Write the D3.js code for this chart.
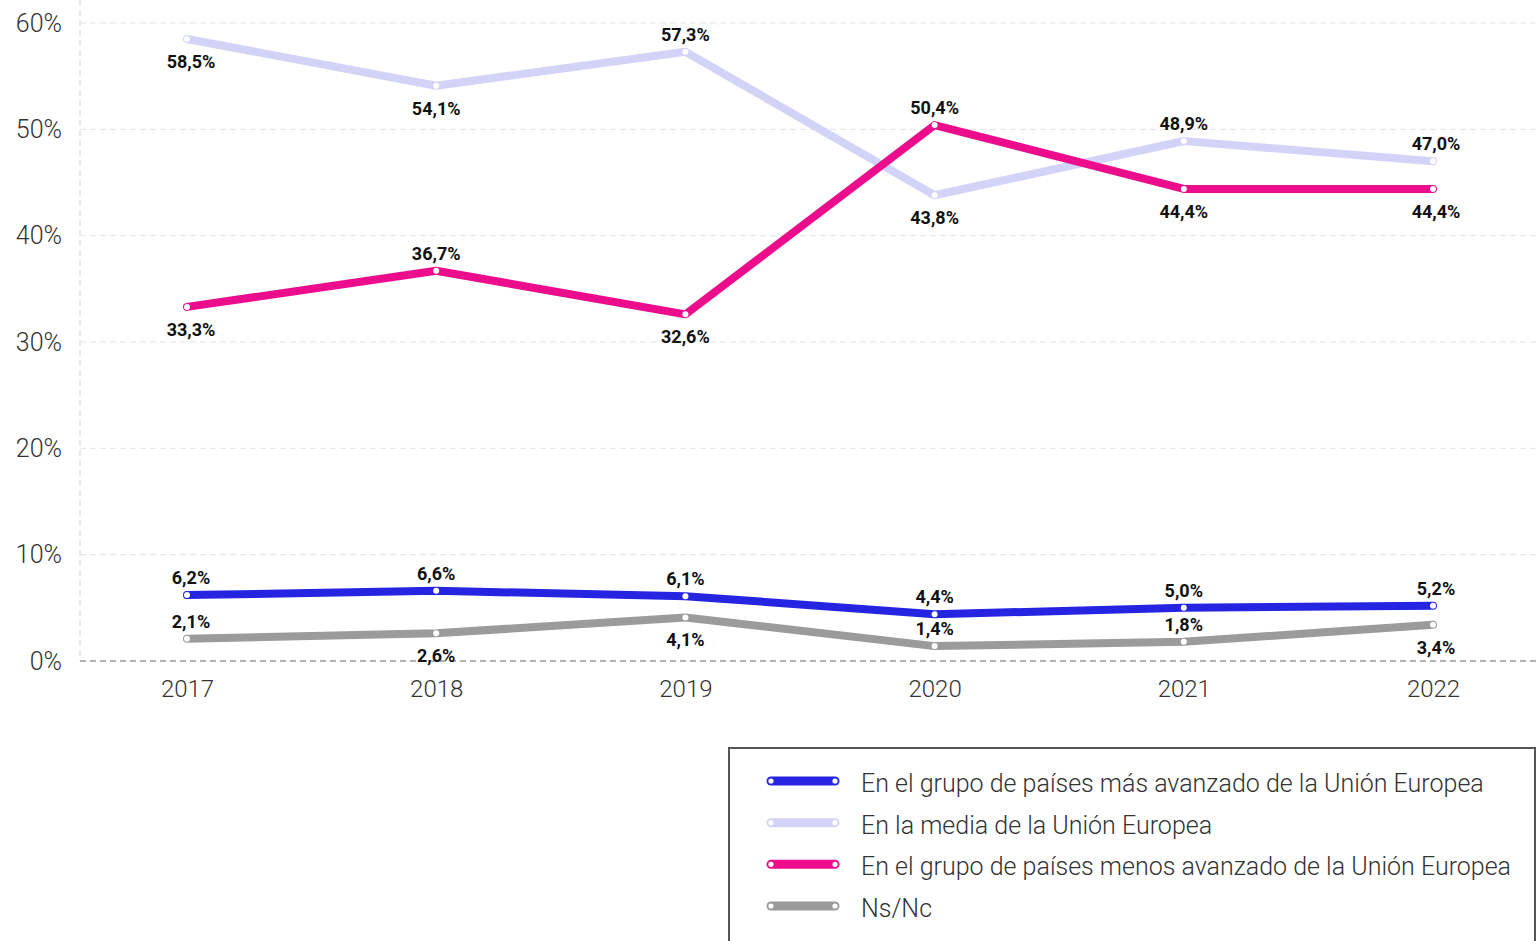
<!DOCTYPE html>
<html><head><meta charset="utf-8">
<script src="https://cdn.jsdelivr.net/npm/d3@7"></script>
<style>
html,body{margin:0;padding:0;background:#fff;overflow:hidden}
svg{display:block;font-family:Roboto,"Noto Sans",sans-serif}
</style></head>
<body><svg id="c" width="1537" height="941"></svg>
<script>
const years = ["2017","2018","2019","2020","2021","2022"];
const yTicks = [0,10,20,30,40,50,60];
const seriesNames = [
  "En el grupo de países más avanzado de la Unión Europea",
  "En la media de la Unión Europea",
  "En el grupo de países menos avanzado de la Unión Europea",
  "Ns/Nc"
];
const seriesColors = ["#2525e1","#d3d3f8","#ec0d8d","#9b9b9b"];
const masAvanzado = [6.2,6.6,6.1,4.4,5.0,5.2];
const mediaUE = [58.5,54.1,57.3,43.8,48.9,47.0];
const menosAvanzado = [33.3,36.7,32.6,50.4,44.4,44.4];
const nsnc = [2.1,2.6,4.1,1.4,1.8,3.4];
// label placement: 1 = above, -1 = below
const posMas = [1,1,1,1,1,1];
const posMedia = [-1,-1,1,-1,1,1];
const posMenos = [-1,1,-1,1,-1,-1];
const posNs = [1,-1,-1,1,1,-1];

(function(){
const series = [
  {name:seriesNames[0],color:seriesColors[0],values:masAvanzado,pos:posMas},
  {name:seriesNames[1],color:seriesColors[1],values:mediaUE,pos:posMedia},
  {name:seriesNames[2],color:seriesColors[2],values:menosAvanzado,pos:posMenos},
  {name:seriesNames[3],color:seriesColors[3],values:nsnc,pos:posNs}
];
const drawOrder = [1,2,3,0];

const svg = d3.select("#c");
const pl = 80, pr = 1537, pt = 23, pb = 661;
const x = d3.scalePoint().domain(years).range([187,1433]);
const y = d3.scaleLinear().domain([0,60]).range([pb,pt]);

// grid
const g = svg.append("g");
g.selectAll("line.h").data(yTicks.filter(d=>d>0)).join("line")
  .attr("x1",pl).attr("x2",pr).attr("y1",d=>y(d)).attr("y2",d=>y(d))
  .attr("stroke","#e3e3e3").attr("stroke-width",1).attr("stroke-dasharray","6,4");
g.append("line").attr("x1",pl).attr("x2",pl).attr("y1",0).attr("y2",pb)
  .attr("stroke","#e3e3e3").attr("stroke-width",1.5).attr("stroke-dasharray","6,4");
g.append("line").attr("x1",pl).attr("x2",pr).attr("y1",y(0)).attr("y2",y(0))
  .attr("stroke","#666").attr("stroke-width",1.2).attr("stroke-dasharray","6,4");

// y axis
const yAxis = d3.axisLeft(y).tickValues(yTicks).tickFormat(d=>d+"%").tickSize(0).tickPadding(0);
const ya = svg.append("g").attr("transform","translate(62,0)").call(yAxis);
ya.select(".domain").remove();
ya.selectAll("text").attr("font-size",25).attr("font-weight",300).attr("fill","#333")
  .attr("font-family","Roboto");

// x axis
const xAxis = d3.axisBottom(x).tickSize(0).tickPadding(0);
const xa = svg.append("g").attr("transform","translate(0,"+(pb+19)+")").call(xAxis);
xa.select(".domain").remove();
xa.selectAll("text").attr("font-size",24).attr("font-weight",300).attr("fill","#333")
  .attr("font-family","Roboto");

// lines
const line = d3.line().x((d,i)=>x(years[i])).y(d=>y(d));
drawOrder.forEach(k=>{
  const s = series[k];
  svg.append("path").datum(s.values).attr("d",line)
    .attr("fill","none").attr("stroke",s.color).attr("stroke-width",8)
    .attr("stroke-linecap","round").attr("stroke-linejoin","round");
  svg.append("g").selectAll("circle").data(s.values).join("circle")
    .attr("cx",(d,i)=>x(years[i])).attr("cy",d=>y(d)).attr("r",3).attr("fill","#fff");
});
// labels
drawOrder.forEach(k=>{
  const s = series[k];
  svg.append("g").selectAll("text").data(s.values).join("text")
    .attr("x",(d,i)=>x(years[i]) + (i===0?4:(i===5?3:0)))
    .attr("y",(d,i)=>y(d) + (s.pos[i]>0 ? -11 : 29))
    .attr("text-anchor","middle").attr("font-size",18).attr("font-weight",700)
    .attr("fill","#111").attr("font-family","Roboto")
    .text(d=>d3.format(".1f")(d).replace(".",",")+"%");
});

// legend
const lg = svg.append("g");
lg.append("rect").attr("x",729).attr("y",748).attr("width",806).attr("height",220)
  .attr("fill","#fff").attr("stroke","#555").attr("stroke-width",2);
const ly = d3.scaleLinear().domain([0,3]).range([781,906]);
series.forEach((s,i)=>{
  const yy = ly(i);
  lg.append("line").attr("x1",771).attr("x2",835).attr("y1",yy).attr("y2",yy)
    .attr("stroke",s.color).attr("stroke-width",9).attr("stroke-linecap","round");
  [771,835].forEach(cx=>lg.append("circle").attr("cx",cx).attr("cy",yy).attr("r",2.6).attr("fill","#fff"));
  lg.append("text").attr("x",861).attr("y",yy+11).attr("font-size",25).attr("font-weight",300)
    .attr("fill","#333").attr("font-family","Roboto").text(s.name);
});
})();
</script></body></html>
